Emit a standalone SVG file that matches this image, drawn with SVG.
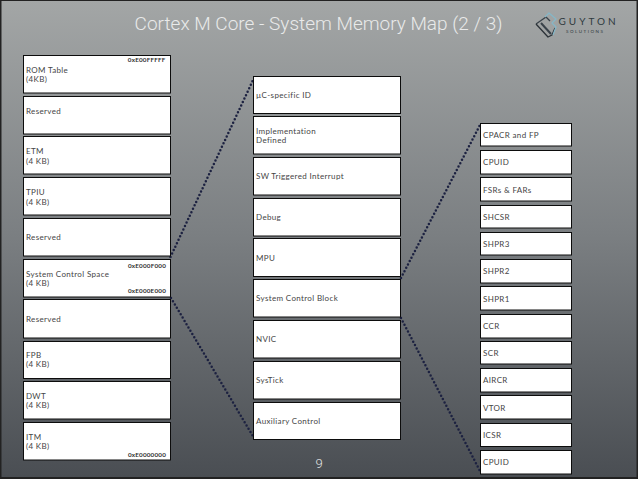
<svg xmlns="http://www.w3.org/2000/svg" width="638" height="479" viewBox="0 0 638 479">
<style>
.b{fill:#fff;stroke:#0c0c0c;stroke-width:1}
.t{font-family:"Lato","Open Sans",sans-serif;font-size:8px;fill:#454545;letter-spacing:.35px}
.a{font-family:"Lato","Open Sans",sans-serif;font-size:6.300px;font-weight:700;fill:#333;letter-spacing:.2px;text-anchor:end}
.d{fill:none;stroke:#1c2140;stroke-width:2.500;stroke-linecap:round;stroke-dasharray:0 3.800}
</style>
<defs><linearGradient id="bg" x1="0" y1="0" x2="0" y2="1"><stop offset="0" stop-color="#a3a6a6"/><stop offset=".5" stop-color="#7a7e81"/><stop offset="1" stop-color="#4a4e53"/></linearGradient></defs>
<rect x="0" y="0" width="638" height="479" fill="#222"/>
<rect x="1.500" y="1" width="635" height="476" fill="url(#bg)"/>
<text id="title" x="318.500" y="30" text-anchor="middle" font-family="Roboto,'Liberation Sans',sans-serif" font-weight="300" font-size="19" fill="#e9eaea">Cortex M Core - System Memory Map (2 / 3)</text>
<g id="logo">
<g fill="none" stroke-linejoin="round">
<path d="M536 24 L546 17 L550 21" stroke="#39424a" stroke-width="1.300"/>
<path d="M536 24 L548 37 L552 35 L555 28" stroke="#2b3238" stroke-width="1.300"/>
<path d="M541 23 L551 34" stroke="#39424a" stroke-width="2"/>
<path d="M545 17 L549 13 L556 19 L552 23 L556 27 L553 35" stroke="#86b6c6" stroke-width="1.300"/>
</g>
<text x="558.500" y="25" font-family="Lato,sans-serif" font-size="10" fill="#2f3a40" letter-spacing="3">GUYTON</text>
<text x="566" y="33" font-family="Lato,sans-serif" font-size="4.500" fill="#2f3a40" letter-spacing="1.500">SOLUTIONS</text>
</g>
<g id="connectors">
<path class="d" d="M170.500 257 L254 78"/>
<path class="d" d="M171 298 L254 438"/>
<path class="d" d="M401 278 L480.500 124"/>
<path class="d" d="M401 318 L481 473"/>
</g>
<g id="rom"><rect class="b" x="23.500" y="55.500" width="147" height="37.500"/><text class="a" x="165.500" y="62">0xE00FFFFF</text><text class="t" x="26" y="73">ROM Table</text><text class="t" x="26" y="82">(4KB)</text></g>
<g id="res1"><rect class="b" x="23.500" y="96.500" width="147" height="37.500"/><text class="t" x="26" y="114">Reserved</text></g>
<g id="etm"><rect class="b" x="23.500" y="136.500" width="147" height="37.500"/><text class="t" x="26" y="154">ETM</text><text class="t" x="26" y="164">(4 KB)</text></g>
<g id="tpiu"><rect class="b" x="23.500" y="177.500" width="147" height="37.500"/><text class="t" x="26" y="195">TPIU</text><text class="t" x="26" y="205">(4 KB)</text></g>
<g id="res2"><rect class="b" x="23.500" y="218.500" width="147" height="37.500"/><text class="t" x="26" y="240">Reserved</text></g>
<g id="scs"><rect class="b" x="23.500" y="259.500" width="147" height="37.500"/><text class="a" x="166" y="268">0xE000F000</text><text class="t" x="26" y="277">System Control Space</text><text class="t" x="26" y="286">(4 KB)</text><text class="a" x="166" y="293">0xE000E000</text></g>
<g id="res3"><rect class="b" x="23.500" y="299.500" width="147" height="38.500"/><text class="t" x="26" y="322">Reserved</text></g>
<g id="fpb"><rect class="b" x="23.500" y="341.500" width="147" height="37"/><text class="t" x="26" y="358">FPB</text><text class="t" x="26" y="367">(4 KB)</text></g>
<g id="dwt"><rect class="b" x="23.500" y="381.500" width="147" height="37.500"/><text class="t" x="26" y="399">DWT</text><text class="t" x="26" y="408">(4 KB)</text></g>
<g id="itm"><rect class="b" x="23.500" y="422.500" width="147" height="37.500"/><text class="t" x="26" y="440">ITM</text><text class="t" x="26" y="449">(4 KB)</text><text class="a" x="166" y="457">0xE0000000</text></g>
<g id="ucid"><rect class="b" x="253.500" y="76.500" width="147" height="37"/><text class="t" x="256" y="98">µC-specific ID</text></g>
<g id="impl"><rect class="b" x="253.500" y="116.500" width="147" height="37.500"/><text class="t" x="256" y="134">Implementation</text><text class="t" x="256" y="143">Defined</text></g>
<g id="swi"><rect class="b" x="253.500" y="157.500" width="147" height="37.500"/><text class="t" x="256" y="179">SW Triggered Interrupt</text></g>
<g id="debug"><rect class="b" x="253.500" y="198.500" width="147" height="37.500"/><text class="t" x="256" y="220">Debug</text></g>
<g id="mpu"><rect class="b" x="253.500" y="238.500" width="147" height="38"/><text class="t" x="256" y="261">MPU</text></g>
<g id="scb"><rect class="b" x="253.500" y="279.500" width="147" height="37.500"/><text class="t" x="256" y="301">System Control Block</text></g>
<g id="nvic"><rect class="b" x="253.500" y="320.500" width="147" height="37.500"/><text class="t" x="256" y="342">NVIC</text></g>
<g id="systick"><rect class="b" x="253.500" y="361.500" width="147" height="37.500"/><text class="t" x="256" y="383">SysTick</text></g>
<g id="aux"><rect class="b" x="253.500" y="402.500" width="147" height="37"/><text class="t" x="256" y="424">Auxiliary Control</text></g>
<g id="cpacr"><rect class="b" x="480.500" y="123.500" width="91" height="22.500"/><text class="t" x="483" y="138">CPACR and FP</text></g>
<g id="cpuid1"><rect class="b" x="480.500" y="150.500" width="91" height="23.500"/><text class="t" x="483" y="165">CPUID</text></g>
<g id="fsrs"><rect class="b" x="480.500" y="177.500" width="91" height="23.500"/><text class="t" x="483" y="193">FSRs &amp; FARs</text></g>
<g id="shcsr"><rect class="b" x="480.500" y="205.500" width="91" height="22.500"/><text class="t" x="483" y="220">SHCSR</text></g>
<g id="shpr3"><rect class="b" x="480.500" y="232.500" width="91" height="22.500"/><text class="t" x="483" y="247">SHPR3</text></g>
<g id="shpr2"><rect class="b" x="480.500" y="259.500" width="91" height="23.500"/><text class="t" x="483" y="274">SHPR2</text></g>
<g id="shpr1"><rect class="b" x="480.500" y="286.500" width="91" height="23.500"/><text class="t" x="483" y="302">SHPR1</text></g>
<g id="ccr"><rect class="b" x="480.500" y="314.500" width="91" height="23.500"/><text class="t" x="483" y="329">CCR</text></g>
<g id="scr"><rect class="b" x="480.500" y="341.500" width="91" height="22.500"/><text class="t" x="483" y="356">SCR</text></g>
<g id="aircr"><rect class="b" x="480.500" y="368.500" width="91" height="23.500"/><text class="t" x="483" y="383">AIRCR</text></g>
<g id="vtor"><rect class="b" x="480.500" y="395.500" width="91" height="23.500"/><text class="t" x="483" y="411">VTOR</text></g>
<g id="icsr"><rect class="b" x="480.500" y="423.500" width="91" height="23"/><text class="t" x="483" y="438">ICSR</text></g>
<g id="cpuid2"><rect class="b" x="480.500" y="450.500" width="91" height="23.500"/><text class="t" x="483" y="465">CPUID</text></g>
<text id="page" x="319" y="468" text-anchor="middle" font-family="Roboto,sans-serif" font-weight="300" font-size="13" fill="#e4e5e5">9</text>
</svg>
